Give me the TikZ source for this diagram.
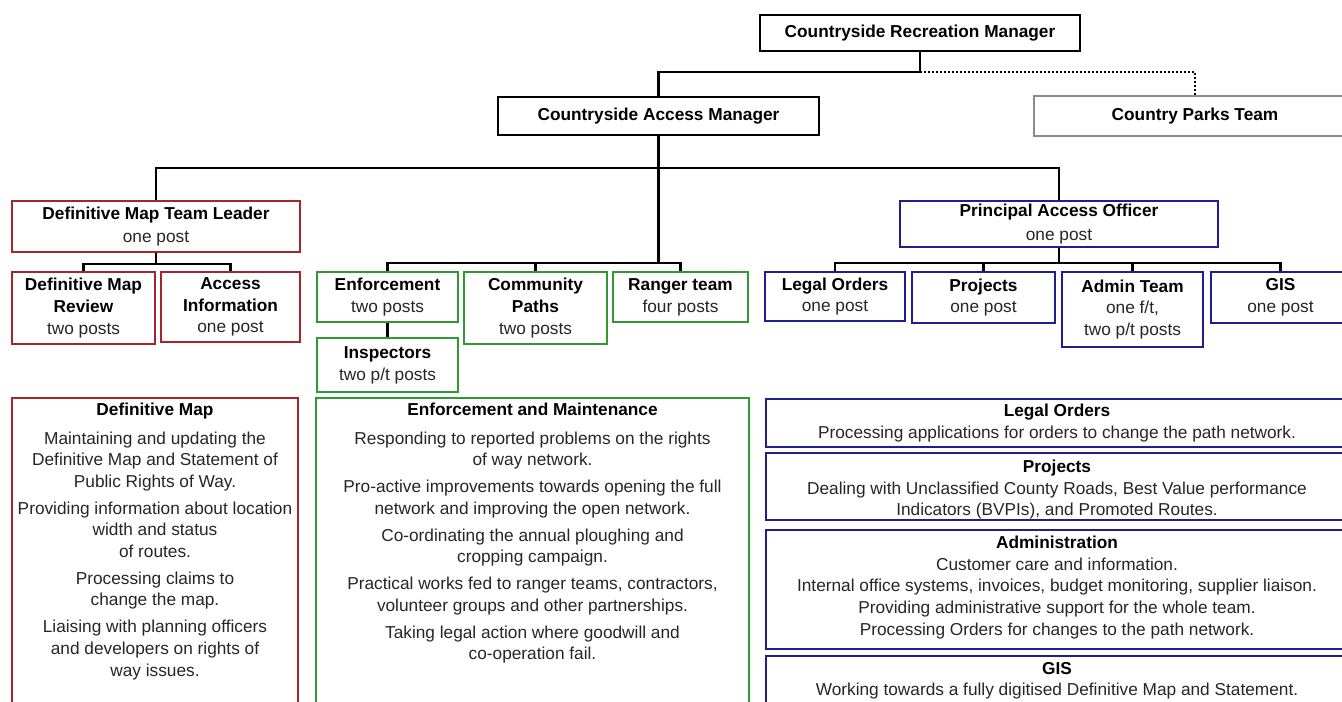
\documentclass[tikz,border=0pt]{standalone}
\usepackage{fontspec}
\setmainfont{Liberation Sans}
\definecolor{bred}{HTML}{A3262A}
\definecolor{bgreen}{HTML}{2F9A34}
\definecolor{bblue}{HTML}{1E1E8C}
\definecolor{bgray}{HTML}{8C8C8C}
\definecolor{btext}{HTML}{262626}
\tikzset{
  box/.style={draw, line width=1.3pt, inner sep=0pt, align=center, text=btext,
    font=\fontsize{12.95pt}{16.3pt}\selectfont},
  blackbox/.style={box, draw=black},
  graybox/.style={box, draw=bgray},
  redbox/.style={box, draw=bred},
  greenbox/.style={box, draw=bgreen},
  bluebox/.style={box, draw=bblue},
  conn/.style={line width=1.7pt, draw=black},
  dotconn/.style={line width=1.7pt, draw=black, dash pattern=on 1.7pt off 1.3pt},
  desc/.style={anchor=north, align=center, inner sep=0pt, text=btext,
    font=\fontsize{12.95pt}{16.2pt}\selectfont},
}
\newcommand{\ttl}[1]{{\color{black}\bfseries #1}}
% \bx{name}{style}{x1}{y1}{x2}{y2}{text}
\newcommand{\bx}[7]{\node[#2, minimum width={0.75pt*(#5-#3)}, minimum height={0.75pt*(#6-#4)}] (#1) at ({(#3+#5)/2},{(#4+#6)/2}) {#7};}
\begin{document}
\begin{tikzpicture}[x=0.75pt,y=-0.75pt]
\useasboundingbox (0,0) rectangle (1342,701);
\clip (0,0) rectangle (1342,701);
\fill[white] (0,0) rectangle (1342,701);

\coordinate (r1) at (0,72);
\coordinate (r2) at (0,168);
\coordinate (r3) at (0,263);
\coordinate (r4) at (0,264);

% top level
\bx{crm}{blackbox}{760}{15}{1080}{51}{\ttl{Countryside Recreation Manager}}
\bx{cam}{blackbox}{498}{97}{819}{135}{\ttl{Countryside Access Manager}}
\bx{cpt}{graybox}{1034}{96}{1356}{136}{\ttl{Country Parks Team}}

% red branch
\bx{dmtl}{redbox}{12}{201}{300}{252}{\ttl{Definitive Map Team Leader}\\[1pt]one post}
\bx{dmr}{redbox}{12}{272}{155}{344}{\ttl{Definitive Map}\\\ttl{Review}\\two posts}
\bx{ai}{redbox}{161}{272}{300}{342}{\ttl{Access}\\\ttl{Information}\\one post}

% green branch
\bx{enf}{greenbox}{317}{272}{458}{322}{\ttl{Enforcement}\\two posts}
\bx{cp}{greenbox}{464}{272}{607}{344}{\ttl{Community}\\\ttl{Paths}\\two posts}
\bx{rng}{greenbox}{613}{272}{748}{322}{\ttl{Ranger team}\\four posts}
\bx{insp}{greenbox}{317}{338}{458}{392}{\ttl{Inspectors}\\two p/t posts}

% blue branch
\bx{pao}{bluebox}{900}{201}{1218}{247}{\ttl{Principal Access Officer}\\[1pt]one post}
\bx{lo}{bluebox}{765}{272}{905}{321}{\ttl{Legal Orders}\\one post}
\bx{proj}{bluebox}{912}{272}{1055}{323}{\ttl{Projects}\\one post}
\bx{adm}{bluebox}{1062}{272}{1203}{347}{\ttl{Admin Team}\\one f/t,\\two p/t posts}
\bx{gis}{bluebox}{1211}{272}{1350}{323}{\ttl{GIS}\\one post}

% connectors
\draw[conn] (crm.south) -- (crm.south |- r1) -| (cam.north);
\draw[dotconn] (crm.south |- r1) -| (cpt.north);
\draw[conn] (cam.south) -- (cam.south |- r3);
\draw[conn] (dmtl.north) -- (dmtl.north |- r2) -| (pao.north);
\draw[conn] (dmtl.south) -- (dmtl.south |- r4);
\draw[conn] (dmr.north) -- (dmr.north |- r4) -| (ai.north);
\draw[conn] (enf.north) -- (enf.north |- r3) -| (rng.north);
\draw[conn] (cp.north) -- (cp.north |- r3);
\draw[conn] (enf.south) -- (insp.north);
\draw[conn] (pao.south) -- (pao.south |- r3);
\draw[conn] (lo.north) -- (lo.north |- r3) -| (gis.north);
\draw[conn] (proj.north) -- (proj.north |- r3);
\draw[conn] (adm.north) -- (adm.north |- r3);

% bottom description boxes
\bx{dmbox}{redbox}{12}{398}{298}{712}{}
\node[desc] (dmtext) at (155,403) {\ttl{Definitive Map}\\[5pt]
Maintaining and updating the\\Definitive Map and Statement of\\Public Rights of Way.\\[4pt]
Providing information about location\\width and status\\of routes.\\[4pt]
Processing claims to\\change the map.\\[4pt]
Liaising with planning officers\\and developers on rights of\\way issues.};

\bx{embox}{greenbox}{316}{398}{749}{712}{}
\node[desc] (emtext) at (532.5,403) {\ttl{Enforcement and Maintenance}\\[5pt]
Responding to reported problems on the rights\\of way network.\\[4pt]
Pro-active improvements towards opening the full\\network and improving the open network.\\[4pt]
Co-ordinating the annual ploughing and\\cropping campaign.\\[4pt]
Practical works fed to ranger teams, contractors,\\volunteer groups and other partnerships.\\[4pt]
Taking legal action where goodwill and\\co-operation fail.};

\bx{lobox}{bluebox}{766}{399}{1350}{447}{}
\node[desc] (lotext) at (1057,404) {\ttl{Legal Orders}\\Processing applications for orders to change the path network.};
\bx{prbox}{bluebox}{766}{453}{1350}{520}{}
\node[desc] (prtext) at (1057,460) {\ttl{Projects}\\Dealing with Unclassified County Roads, Best Value performance\\Indicators (BVPIs), and Promoted Routes.};
\bx{adbox}{bluebox}{766}{530}{1350}{649}{}
\node[desc] (adtext) at (1057,536) {\ttl{Administration}\\Customer care and information.\\Internal office systems, invoices, budget monitoring, supplier liaison.\\Providing administrative support for the whole team.\\Processing Orders for changes to the path network.};
\bx{gisbox}{bluebox}{766}{656}{1350}{712}{}
\node[desc] (gistext) at (1057,662) {\ttl{GIS}\\Working towards a fully digitised Definitive Map and Statement.};
\end{tikzpicture}
\end{document}
